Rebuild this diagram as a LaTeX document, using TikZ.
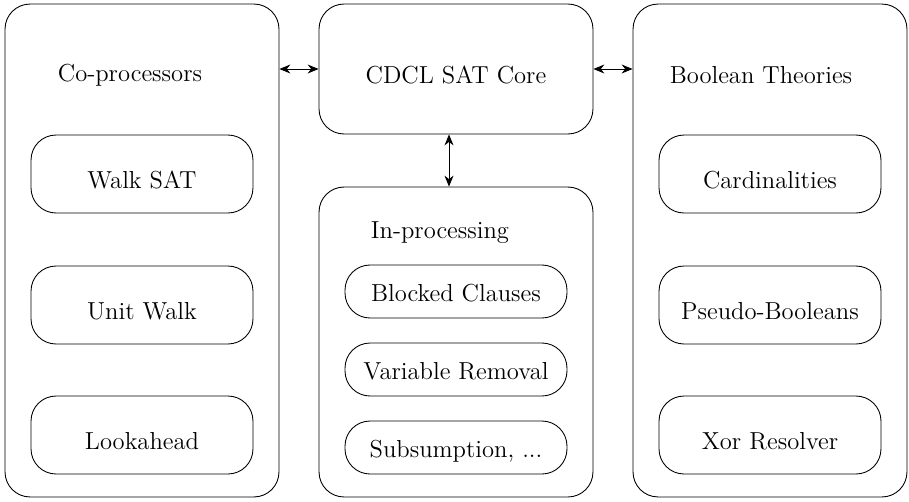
\documentclass[tikz,border=0pt]{standalone}
\usepackage{tikz}
\usetikzlibrary{arrows.meta, positioning, calc}

\begin{document}
\begin{tikzpicture}[
        x=0.02cm, y=-0.02cm,
        font=\fontsize{14}{17}\selectfont,
        outer/.style={draw, rounded corners=0.5cm, minimum width=5.48cm,
                      line width=0.5pt, inner sep=0pt},
        inner/.style={draw, rounded corners=0.5cm, minimum width=4.44cm,
                      line width=0.5pt, text height=16pt, text depth=0pt},
        pill/.style={inner, minimum height=1.06cm, text height=11pt, text depth=0pt},
        ttl/.style={inner sep=0pt},
        arr/.style={{Stealth[length=2.2mm,width=1.8mm]}-{Stealth[length=2.2mm,width=1.8mm]},
                    line width=0.5pt}
      ]
        \useasboundingbox (0,0) rectangle (909,501);
        % Outer frames
        \node[outer, minimum height=9.86cm] (copro) at (142,250.5) {};
        \node[outer, minimum height=2.6cm, text height=16pt, text depth=0pt] (core) at (456,69) {CDCL SAT Core};
        \node[outer, minimum height=6.2cm] (inproc) at (456,342) {};
        \node[outer, minimum height=9.86cm] (theory) at (770,250.5) {};
        % Titles
        \node[ttl] (coprottl) at (130,75) {Co-processors};
        \node[ttl] (inprocttl) at (440,233) {In-processing};
        \node[ttl] (theoryttl) at (761,75) {Boolean Theories};
        % Co-processors
        \node[inner, minimum height=1.56cm] (walk) at (142,174) {Walk SAT};
        \node[inner, minimum height=1.56cm] (unit) at (142,305) {Unit Walk};
        \node[inner, minimum height=1.56cm] (look) at (142,435) {Lookahead};
        % In-processing
        \node[pill] (blocked) at (456,291.5) {Blocked Clauses};
        \node[pill] (varrem) at (456,369.5) {Variable Removal};
        \node[pill] (subs) at (456,447.5) {Subsumption, ...};
        % Boolean theories
        \node[inner, minimum height=1.56cm] (card) at (770,174) {Cardinalities};
        \node[inner, minimum height=1.56cm] (pseudo) at (770,305) {Pseudo-Booleans};
        \node[inner, minimum height=1.56cm] (xor) at (770,435) {Xor Resolver};
        % Links
        \draw[arr] (copro.east |- core.west) -- (core.west);
        \draw[arr] (core.east) -- (core.east -| theory.west);
        \draw[arr] ([xshift=-0.14cm]core.south) -- ([xshift=-0.14cm]inproc.north);
      \end{tikzpicture}
\end{document}
